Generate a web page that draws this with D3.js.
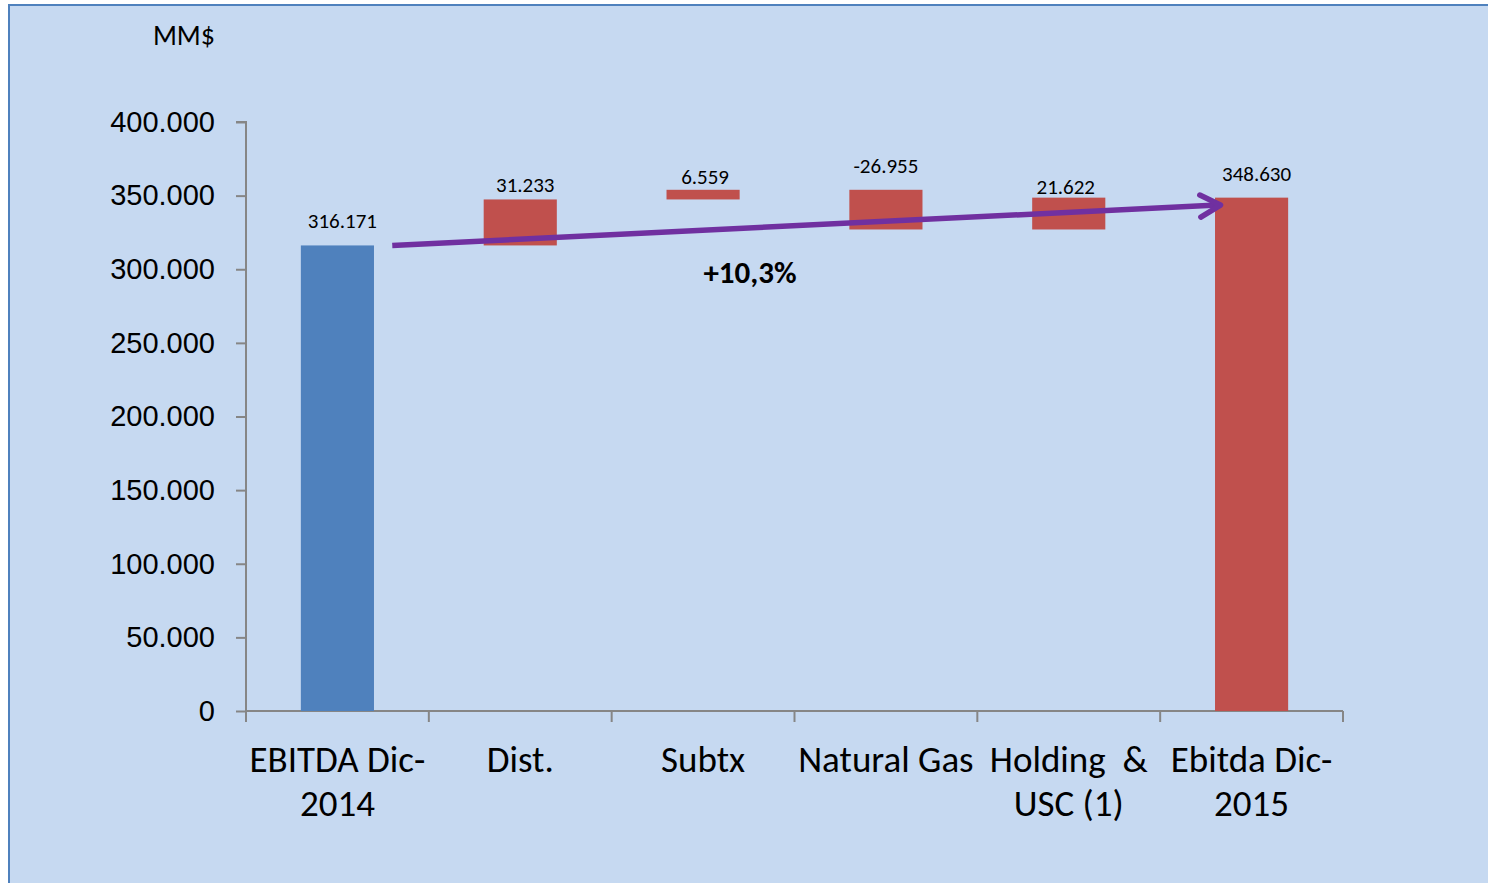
<!DOCTYPE html>
<html>
<head>
<meta charset="utf-8">
<script src="https://cdn.jsdelivr.net/npm/d3@7"></script>
<style>
  html, body { margin: 0; padding: 0; background: #ffffff; }
  svg { display: block; font-family: Carlito, Calibri, Lato, sans-serif; }
</style>
</head>
<body>
<svg id="chart" width="1488" height="883"></svg>
<script>
// data
const categories = ["EBITDA Dic-\n2014", "Dist.", "Subtx", "Natural Gas", "Holding  &\nUSC (1)", "Ebitda Dic-\n2015"];
const values = [316171, 31233, 6559, -26955, 21622, 348630];
const kinds = ["total", "delta", "delta", "delta", "delta", "total"];
const yTicks = [0, 50000, 100000, 150000, 200000, 250000, 300000, 350000, 400000];
const unitLabel = "MM$";
const growthLabel = "+10,3%";
const arrowFrom = { cat: 0, value: 316171 };
const arrowTo = { cat: 5, value: 343600 };

// layout
const W = 1488, H = 883;
const plotL = 246, plotR = 1343, plotT = 122, plotB = 711;
// excel puts the value labels a bit unevenly
const labelLift = [17, 7, 6, 17, 4, 17];
const labelShift = [5, 5, 2, 0, -3, 5];

const svg = d3.select("#chart");
const loc = d3.formatLocale({ decimal: ",", thousands: ".", grouping: [3], currency: ["$", ""], minus: "-" });
const fmt = loc.format(",d");

// frame
svg.append("rect")
    .attr("x", 9).attr("y", 5)
    .attr("width", W + 20).attr("height", H + 20)
    .attr("fill", "#c6d9f1")
    .attr("stroke", "#4f81bd")
    .attr("stroke-width", 2);

const x = d3.scaleBand().domain(d3.range(categories.length)).range([plotL, plotR]).padding(0);
const y = d3.scaleLinear().domain([0, 400000]).range([plotB, plotT]);
const barW = x.bandwidth() * 0.4;

// waterfall bars
let run = 0;
const bars = values.map((v, i) => {
    let y0, y1;
    if (kinds[i] === "total") { y0 = 0; y1 = v; run = v; }
    else { y0 = run; y1 = run + v; run = y1; }
    return { i, v, lo: Math.min(y0, y1), hi: Math.max(y0, y1), kind: kinds[i] };
});

// axes
const yAxis = svg.append("g")
    .attr("transform", "translate(" + plotL + ",0)")
    .call(d3.axisLeft(y).tickValues(yTicks).tickSize(10).tickPadding(21).tickFormat(d => d === 0 ? "0" : fmt(d)));
yAxis.select(".domain").attr("stroke", "#868686").attr("stroke-width", 2).attr("d", "M-10," + plotT + "H0V" + plotB);
yAxis.selectAll(".tick line").attr("stroke", "#868686").attr("stroke-width", 2);
yAxis.selectAll(".tick text").attr("fill", "#000").style("font-size", "29px");

const xAxis = svg.append("g").attr("transform", "translate(0," + plotB + ")");
xAxis.append("line").attr("x1", plotL).attr("x2", plotR).attr("y1", 0).attr("y2", 0)
    .attr("stroke", "#868686").attr("stroke-width", 2);
xAxis.selectAll("line.tk").data(d3.range(categories.length + 1)).enter().append("line")
    .attr("class", "tk")
    .attr("x1", d => d < categories.length ? x(d) : plotR)
    .attr("x2", d => d < categories.length ? x(d) : plotR)
    .attr("y1", 0).attr("y2", 11)
    .attr("stroke", "#868686").attr("stroke-width", 2);
const catText = xAxis.selectAll("text.cat").data(categories).enter().append("text")
    .attr("class", "cat")
    .attr("text-anchor", "middle")
    .style("font-size", "37px")
    .attr("fill", "#000");
catText.each(function (d, i) {
    const t = d3.select(this);
    d.split("\n").forEach((line, k) => {
        t.append("tspan")
            .attr("x", x(i) + x.bandwidth() / 2)
            .attr("y", 61 + k * 44)
            .style("white-space", "pre")
            .text(line);
    });
});

svg.selectAll("rect.bar").data(bars).enter().append("rect")
    .attr("class", "bar")
    .attr("x", d => x(d.i) + (x.bandwidth() - barW) / 2)
    .attr("width", barW)
    .attr("y", d => y(d.hi))
    .attr("height", d => y(d.lo) - y(d.hi))
    .attr("fill", d => d.i === 0 ? "#4f81bd" : "#c0504d");

svg.selectAll("text.val").data(bars).enter().append("text")
    .attr("class", "val")
    .attr("x", d => x(d.i) + x.bandwidth() / 2 + labelShift[d.i])
    .attr("y", d => y(d.hi) - labelLift[d.i])
    .attr("text-anchor", "middle")
    .style("font-size", "21px")
    .attr("fill", "#000")
    .text(d => fmt(d.v));

// growth arrow
const ax0 = x(arrowFrom.cat) + x.bandwidth() * 0.8, ay0 = y(arrowFrom.value);
const ax1 = x(arrowTo.cat) + x.bandwidth() * 0.33, ay1 = y(arrowTo.value);
const ang = Math.atan2(ay1 - ay0, ax1 - ax0);
const headLen = 23, headAng = 0.5;
svg.append("line")
    .attr("x1", ax0).attr("y1", ay0).attr("x2", ax1 - 3).attr("y2", ay1)
    .attr("stroke", "#7030a0").attr("stroke-width", 5.5);
svg.append("path")
    .attr("d", "M" + (ax1 - headLen * Math.cos(ang - headAng)) + "," + (ay1 - headLen * Math.sin(ang - headAng)) +
        "L" + ax1 + "," + ay1 +
        "L" + (ax1 - headLen * Math.cos(ang + headAng)) + "," + (ay1 - headLen * Math.sin(ang + headAng)))
    .attr("fill", "none")
    .attr("stroke", "#7030a0").attr("stroke-width", 5.5)
    .attr("stroke-linecap", "round").attr("stroke-linejoin", "round");

svg.append("text")
    .attr("x", 750).attr("y", 283)
    .attr("text-anchor", "middle")
    .style("font-size", "31px").style("font-weight", "bold")
    .attr("fill", "#000")
    .text(growthLabel);

svg.append("text")
    .attr("x", 215).attr("y", 45)
    .attr("text-anchor", "end")
    .style("font-size", "28px")
    .attr("fill", "#000")
    .text(unitLabel);
</script>
</body>
</html>
